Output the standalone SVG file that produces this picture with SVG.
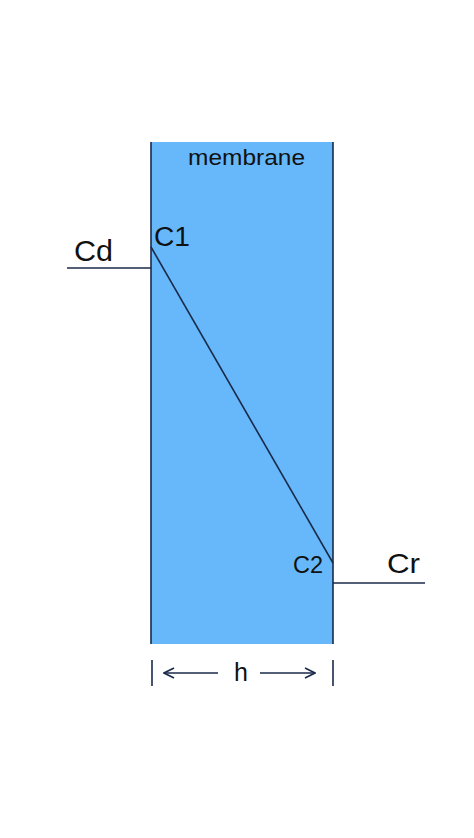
<svg xmlns="http://www.w3.org/2000/svg" width="474" height="838" viewBox="0 0 474 838">
<style>
.t{font-family:"Liberation Sans",Arial,sans-serif;fill:#111}
.ln{stroke:#1a2a4a;stroke-width:1.6;fill:none}
</style>
<defs>
<marker id="ah" markerWidth="12" markerHeight="12" refX="11" refY="6" orient="auto" markerUnits="userSpaceOnUse">
<path d="M1,1 L11,6 L1,11" fill="none" stroke="#1a2a4a" stroke-width="1.6"/>
</marker>
</defs>
<rect width="474" height="838" fill="#fff"/>
<g id="membrane">
<rect x="151" y="142" width="182" height="502" fill="#66b8fa"/>
<line class="ln" x1="151" y1="142" x2="151" y2="644"/>
<line class="ln" x1="333" y1="142" x2="333" y2="644"/>
<text class="t" x="188" y="165" font-size="22" textLength="117" lengthAdjust="spacingAndGlyphs">membrane</text>
</g>
<g id="connectors">
<line class="ln" x1="67" y1="268" x2="151" y2="268"/>
<line class="ln" x1="333" y1="583" x2="425" y2="583"/>
<line class="ln" x1="151" y1="247" x2="333" y2="563"/>
<line class="ln" x1="152" y1="660" x2="152" y2="686"/>
<line class="ln" x1="333" y1="660" x2="333" y2="686"/>
<line class="ln" x1="218" y1="673" x2="164" y2="673" marker-end="url(#ah)"/>
<line class="ln" x1="260" y1="673" x2="315" y2="673" marker-end="url(#ah)"/>
</g>
<g id="labels">
<text class="t" x="74" y="261" font-size="29" textLength="39" lengthAdjust="spacingAndGlyphs">Cd</text>
<text class="t" x="154" y="246" font-size="27" textLength="36" lengthAdjust="spacingAndGlyphs">C1</text>
<text class="t" x="293" y="573" font-size="23" textLength="30" lengthAdjust="spacingAndGlyphs">C2</text>
<text class="t" x="387" y="573" font-size="28" textLength="33" lengthAdjust="spacingAndGlyphs">Cr</text>
<text class="t" x="241" y="681" font-size="25" text-anchor="middle">h</text>
</g>
</svg>
